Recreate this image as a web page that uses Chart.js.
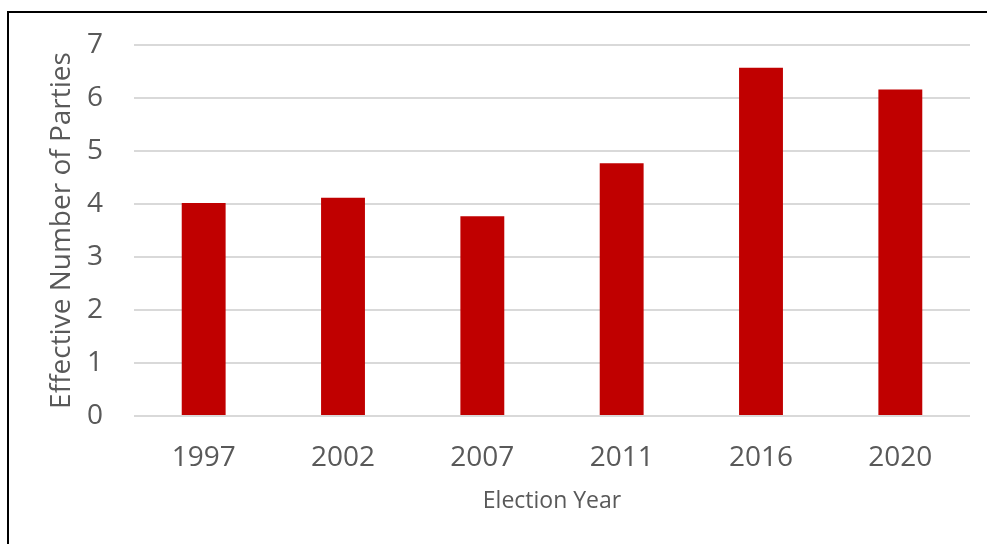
<!DOCTYPE html>
<html>
<head>
<meta charset="utf-8">
<script src="https://cdn.jsdelivr.net/npm/chart.js@4"></script>
<style>
  html, body { margin: 0; padding: 0; background: #fff; }
  #wrap { position: relative; width: 987px; height: 544px; overflow: hidden; }
  #frame { position: absolute; left: 7px; top: 11px; width: 1000px; height: 600px;
           border-left: 2px solid #000; border-top: 2px solid #000; }
  #chart { position: absolute; left: 0; top: 0; }
</style>
</head>
<body>
<div id="wrap">
  <div id="frame"></div>
  <canvas id="chart" width="987" height="544"></canvas>
</div>
<script>
const years = ['1997', '2002', '2007', '2011', '2016', '2020'];
const effectiveParties = [4.02, 4.12, 3.77, 4.77, 6.57, 6.16];
const yTicks = [0, 1, 2, 3, 4, 5, 6, 7];

const ctx = document.getElementById('chart').getContext('2d');
new Chart(ctx, {
  type: 'bar',
  data: {
    labels: years,
    datasets: [{
      data: effectiveParties,
      backgroundColor: '#C00000',
      borderWidth: 0,
      barPercentage: 0.315,
      categoryPercentage: 1
    }]
  },
  options: {
    responsive: false,
    animation: false,
    layout: { padding: { top: 29, right: 17, bottom: 31, left: 48 } },
    plugins: {
      legend: { display: false },
      tooltip: { enabled: false }
    },
    scales: {
      x: {
        grid: { display: false, drawTicks: false },
        border: { display: false },
        ticks: {
          color: '#595959',
          font: { family: 'Open Sans', size: 28, lineHeight: 1 },
          padding: 28,
          maxRotation: 0,
          minRotation: 0
        },
        title: {
          display: true,
          text: 'Election Year',
          color: '#595959',
          font: { family: 'Open Sans', size: 23, lineHeight: 1 },
          // chart.js leaves extra room here, pull the title back up
          padding: { top: -10, bottom: 0 }
        }
      },
      y: {
        min: 0,
        max: 7,
        afterBuildTicks: axis => { axis.ticks = yTicks.map(v => ({ value: v })); },
        grid: { color: '#d9d9d9', lineWidth: 2, drawTicks: false },
        border: { display: false },
        ticks: {
          color: '#595959',
          font: { family: 'Open Sans', size: 28, lineHeight: 1 },
          padding: 31
        },
        title: {
          display: true,
          text: 'Effective Number of Parties',
          color: '#595959',
          font: { family: 'Open Sans', size: 28, lineHeight: 1 },
          padding: { top: 0, bottom: -20 }
        }
      }
    }
  }
});
</script>
</body>
</html>
